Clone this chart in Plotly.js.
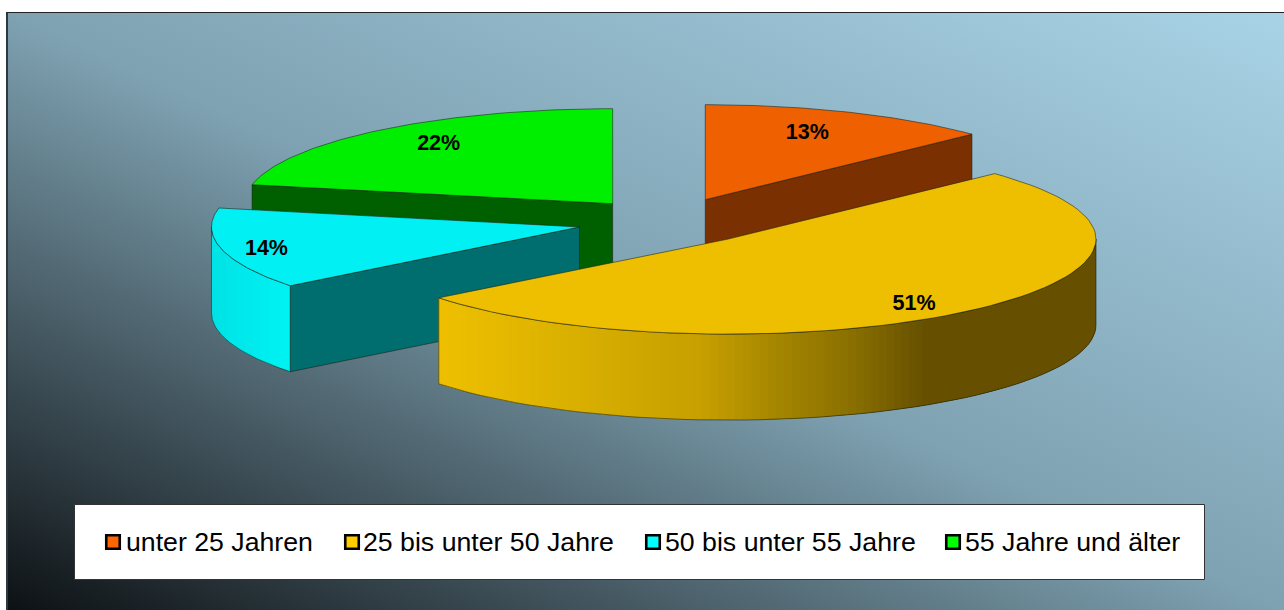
<!DOCTYPE html>
<html>
<head>
<meta charset="utf-8">
<script src="https://cdn.plot.ly/plotly-3.0.1.min.js"></script>
<style>
html,body{margin:0;padding:0;background:#fff;width:1284px;height:610px;overflow:hidden}
#bg{position:absolute;left:6px;top:12px;width:1278px;height:598px;box-sizing:border-box;
 border-left:2px solid #2c3a40;border-top:1px solid #222;
 background:linear-gradient(to top right,#0d1114 0%,#7fa2b2 50%,#a8d3e6 100%)}
#chart{position:absolute;left:0;top:0;width:1284px;height:610px}
</style>
</head>
<body>
<div id="bg"></div>
<div id="chart"></div>
<script>
// Data
const categories = ["unter 25 Jahren","25 bis unter 50 Jahre","50 bis unter 55 Jahre","55 Jahre und älter"];
const shares = [12.9, 51.49, 13.81, 21.8];

// Styles
const topColors  = ["#ee6000","#eebf00","#00f0f4","#00ee00"];
const faceColors = ["#7a3000","#665000","#006e6e","#006000"];
const swatchColors = ["#ff6600","#ffcc00","#00ffff","#00ff00"];
const edge = "rgba(25,30,20,0.7)";

// Pie projection
const cx = 669, cy = 221.5, rx = 368, ry = 95, depth = 86;
const explode = [0.25,0.245,0.25,0.242];
const labelShift = [[102,-66],[186,66],[-313,23],[-174,-59]];
const legendBox = {x0:74.5,x1:1204.5,y0:504.5,y1:579.5,midY:542};
const swatchX = [113,352,653,953];
const textX = [124,361,663,963];

const rad = d => d*Math.PI/180;
const px = (c,a) => c.x + rx*Math.sin(rad(a));
const py = (c,a) => c.y - ry*Math.cos(rad(a));
function arc(c,a0,a1,n){const p=[];for(let i=0;i<=n;i++){const a=a0+(a1-a0)*i/n;p.push([px(c,a),py(c,a)]);}return p;}

const traces=[];
function poly(pts,fill,lw,lc){
  traces.push({type:"scatter",mode:"lines",x:pts.map(p=>p[0]).concat([pts[0][0]]),y:pts.map(p=>p[1]).concat([pts[0][1]]),
    fill:"toself",fillcolor:fill,line:{color:lc||fill,width:lw||0},hoverinfo:"skip",showlegend:false});
}
function hexLerp(stops,x){
  if(x<=stops[0][0])return stops[0][1];
  for(let i=1;i<stops.length;i++){
    if(x<=stops[i][0]){
      const t=(x-stops[i-1][0])/(stops[i][0]-stops[i-1][0]);
      const a=stops[i-1][1],b=stops[i][1];
      const ch=k=>Math.round(parseInt(a.substr(k,2),16)*(1-t)+parseInt(b.substr(k,2),16)*t);
      return "rgb("+ch(1)+","+ch(3)+","+ch(5)+")";
    }
  }
  return stops[stops.length-1][1];
}
// Each band runs on under the next one, so no seam shows between them.
function sideBand(c,a0,a1,n,stops){
  const order=[];
  for(let i=0;i<n;i++)order.push(i);
  order.forEach(i=>{
    const s=a0+(a1-a0)*i/n,e=a0+(a1-a0)*Math.min(i+3,n)/n,mid=a0+(a1-a0)*(i+0.5)/n;
    const col=hexLerp(stops,px(c,mid));
    const up=arc(c,s,e,4),lo=up.map(p=>[p[0],p[1]+depth]).reverse();
    poly(up.concat(lo),col);
  });
  const up=arc(c,a0,a1,60),lo=up.map(p=>[p[0],p[1]+depth]).reverse();
  poly(up.concat(lo),"rgba(0,0,0,0)",0.8,edge);
}

// slice geometry from shares
let start=0;const slices=shares.map((v,i)=>{const a0=start,a1=start+v*3.6;start=a1;
  const m=(a0+a1)/2;
  return {a0,a1,x:cx+explode[i]*rx*Math.sin(rad(m)),y:cy-explode[i]*ry*Math.cos(rad(m))};});

function topFace(i){const s=slices[i];poly([[s.x,s.y]].concat(arc(s,s.a0,s.a1,80)),topColors[i],0.8,edge);}
function cutFace(i,ang){const s=slices[i];const rimX=px(s,ang),rimY=py(s,ang);
  poly([[s.x,s.y],[rimX,rimY],[rimX,rimY+depth],[s.x,s.y+depth]],faceColors[i],0.8,edge);}

// back to front
cutFace(3,slices[3].a0); topFace(3);
cutFace(0,slices[0].a1); topFace(0);
cutFace(2,slices[2].a0);
sideBand(slices[2],slices[2].a0,270,14,[[212,"#00e2e6"],[289,"#00f2f2"]]);
topFace(2);
sideBand(slices[1],90,slices[1].a1,110,[[437,"#eec000"],[533,"#e0b500"],[633,"#d0a800"],[700,"#c8a000"],[770,"#a88800"],[850,"#8a7000"],[925,"#665000"]]);
topFace(1);

// percent labels
traces.push({type:"scatter",mode:"text",
  x:slices.map((s,i)=>s.x+labelShift[i][0]),y:slices.map((s,i)=>s.y+labelShift[i][1]),
  text:shares.map(v=>Math.round(v)+"%"),textposition:"middle center",
  textfont:{family:"Liberation Sans, Arial, sans-serif",size:21.5,color:"#000",weight:700},hoverinfo:"skip",showlegend:false});

// legend swatches
traces.push({type:"scatter",mode:"markers",x:swatchX,y:swatchX.map(()=>legendBox.midY),
  marker:{symbol:"square",size:13.5,color:swatchColors,line:{color:"#000",width:2.6}},hoverinfo:"skip",showlegend:false});

const layout={
  width:1284,height:610,margin:{l:0,r:0,t:0,b:0},paper_bgcolor:"rgba(0,0,0,0)",plot_bgcolor:"rgba(0,0,0,0)",
  showlegend:false,
  xaxis:{range:[0,1284],visible:false,fixedrange:true},
  yaxis:{range:[610,0],visible:false,fixedrange:true},
  shapes:[{type:"rect",xref:"x",yref:"y",x0:legendBox.x0,x1:legendBox.x1,y0:legendBox.y0,y1:legendBox.y1,
    fillcolor:"#fff",line:{color:"#333",width:1},layer:"below"}],
  annotations:categories.map((c,i)=>({text:c,x:textX[i],y:legendBox.midY,xref:"x",yref:"y",xanchor:"left",yanchor:"middle",
    showarrow:false,font:{family:"Liberation Sans, Arial, sans-serif",size:26.7,color:"#000"}}))
};
Plotly.newPlot("chart",traces,layout,{displayModeBar:false,staticPlot:true});
</script>
</body>
</html>
